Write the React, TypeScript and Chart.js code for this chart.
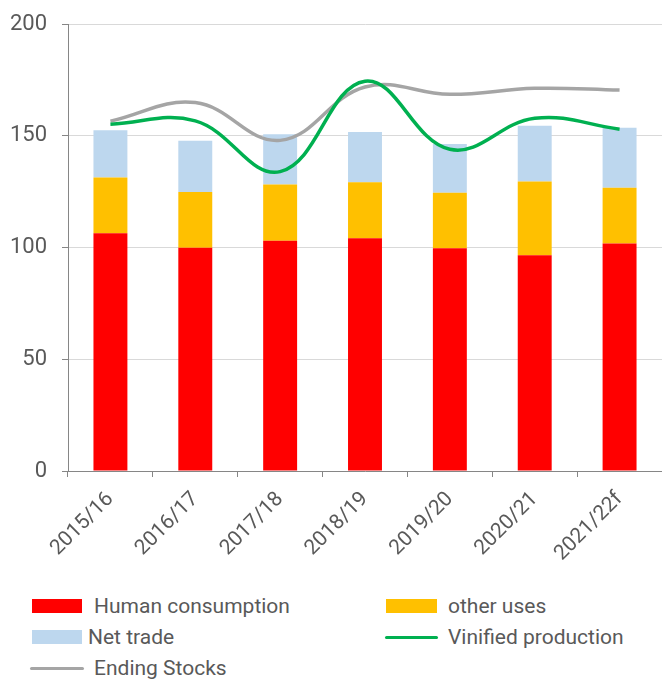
import React, { useEffect, useRef } from "react";
import { Chart, registerables } from "chart.js";

Chart.register(...registerables);

const categories = ["2015/16", "2016/17", "2017/18", "2018/19", "2019/20", "2020/21", "2021/22f"];
const humanConsumption = [106.4, 99.9, 103.1, 104.2, 99.7, 96.6, 101.8];
const otherUses = [25.0, 25.0, 25.2, 25.0, 24.9, 33.0, 25.0];
const netTrade = [21.1, 22.9, 22.4, 22.6, 21.8, 24.9, 26.8];
const vinifiedProduction = [155.2, 156.7, 134.0, 174.5, 144.0, 157.9, 153.0];
const endingStocks = [156.6, 164.9, 148.0, 171.9, 168.6, 171.3, 170.5];
const yTickValues = [0, 50, 100, 150, 200];

const seriesLabels = ["Human consumption", "other uses", "Net trade", "Vinified production", "Ending Stocks"];
const seriesColors = ["#FF0000", "#FFC000", "#BDD7EE", "#00B050", "#A5A5A5"];

const FONT = "Roboto, 'Noto Sans', sans-serif";
const TEXT = "#595959";
const AXIS = "#868686";
const GRID = "#D9D9D9";

type LegendItem = { label: string; color: string; kind: "box" | "line"; x: number; cy: number; tx: number; w: number };

const legendItems: LegendItem[] = [
  { label: seriesLabels[0], color: seriesColors[0], kind: "box", x: 32, cy: 606, tx: 94, w: 50 },
  { label: seriesLabels[1], color: seriesColors[1], kind: "box", x: 386, cy: 606, tx: 448, w: 51 },
  { label: seriesLabels[2], color: seriesColors[2], kind: "box", x: 32, cy: 637, tx: 88, w: 50 },
  { label: seriesLabels[3], color: seriesColors[3], kind: "line", x: 385, cy: 637, tx: 448, w: 53 },
  { label: seriesLabels[4], color: seriesColors[4], kind: "line", x: 30, cy: 668, tx: 94, w: 54 },
];

export default function App() {
  const canvasRef = useRef<HTMLCanvasElement | null>(null);

  useEffect(() => {
    if (!canvasRef.current) return;
    const chart = new Chart(canvasRef.current, {
      type: "bar",
      data: {
        labels: categories,
        datasets: [
          {
            type: "line",
            label: seriesLabels[3],
            data: vinifiedProduction,
            borderColor: seriesColors[3],
            backgroundColor: seriesColors[3],
            borderWidth: 3.5,
            pointRadius: 0,
            tension: 0.4,
            fill: false,
            stack: "vp",
            order: 0,
          } as any,
          {
            type: "line",
            label: seriesLabels[4],
            data: endingStocks,
            borderColor: seriesColors[4],
            backgroundColor: seriesColors[4],
            borderWidth: 3.5,
            pointRadius: 0,
            tension: 0.4,
            fill: false,
            stack: "es",
            order: 1,
          } as any,
          {
            type: "bar",
            label: seriesLabels[0],
            data: humanConsumption,
            backgroundColor: seriesColors[0],
            stack: "bars",
            barPercentage: 0.4,
            categoryPercentage: 1,
            order: 2,
          },
          {
            type: "bar",
            label: seriesLabels[1],
            data: otherUses,
            backgroundColor: seriesColors[1],
            stack: "bars",
            barPercentage: 0.4,
            categoryPercentage: 1,
            order: 2,
          },
          {
            type: "bar",
            label: seriesLabels[2],
            data: netTrade,
            backgroundColor: seriesColors[2],
            stack: "bars",
            barPercentage: 0.4,
            categoryPercentage: 1,
            order: 2,
          },
        ],
      },
      options: {
        responsive: false,
        animation: false,
        devicePixelRatio: 1,
        layout: { padding: { top: 17, right: 0, left: 0, bottom: 0 } },
        plugins: { legend: { display: false }, tooltip: { enabled: false } },
        scales: {
          x: {
            stacked: true,
            offset: true,
            grid: { offset: true, drawOnChartArea: false, drawTicks: true, tickLength: 6, tickColor: AXIS },
            border: { color: AXIS, width: 1 },
            ticks: {
              minRotation: 45,
              maxRotation: 45,
              padding: 10,
              color: TEXT,
              font: { family: FONT, size: 21 },
            },
            afterFit: (s: any) => {
              s.height = 105;
            },
          },
          y: {
            stacked: true,
            min: 0,
            max: 200,
            grid: { color: GRID, tickColor: AXIS, tickLength: 6, lineWidth: 1 },
            border: { color: AXIS, width: 1 },
            ticks: {
              stepSize: 50,
              padding: 15,
              color: TEXT,
              font: { family: FONT, size: 22 },
            },
            afterBuildTicks: (s: any) => {
              s.ticks = yTickValues.map((v) => ({ value: v }));
            },
            afterFit: (s: any) => {
              s.width = 68;
            },
          },
        },
      },
    });
    return () => chart.destroy();
  }, []);

  return (
    <div style={{ position: "fixed", left: 0, top: 0, width: 662, height: 679, background: "#fff", overflow: "hidden" }}>
      <canvas ref={canvasRef} width={662} height={580} style={{ position: "absolute", left: 0, top: -4, width: 662, height: 580 }} />
      {legendItems.map((it) => (
        <React.Fragment key={it.label}>
          {it.kind === "box" ? (
            <div style={{ position: "absolute", left: it.x, top: it.cy - 7, width: it.w, height: 14, background: it.color }} />
          ) : (
            <div style={{ position: "absolute", left: it.x, top: it.cy - 1.5, width: it.w, height: 3, borderRadius: 1.5, background: it.color }} />
          )}
          <div
            style={{
              position: "absolute",
              left: it.tx,
              top: it.cy - 13,
              height: 26,
              lineHeight: "26px",
              fontFamily: FONT,
              fontSize: 21,
              color: TEXT,
              whiteSpace: "nowrap",
            }}
          >
            {it.label}
          </div>
        </React.Fragment>
      ))}
    </div>
  );
}
